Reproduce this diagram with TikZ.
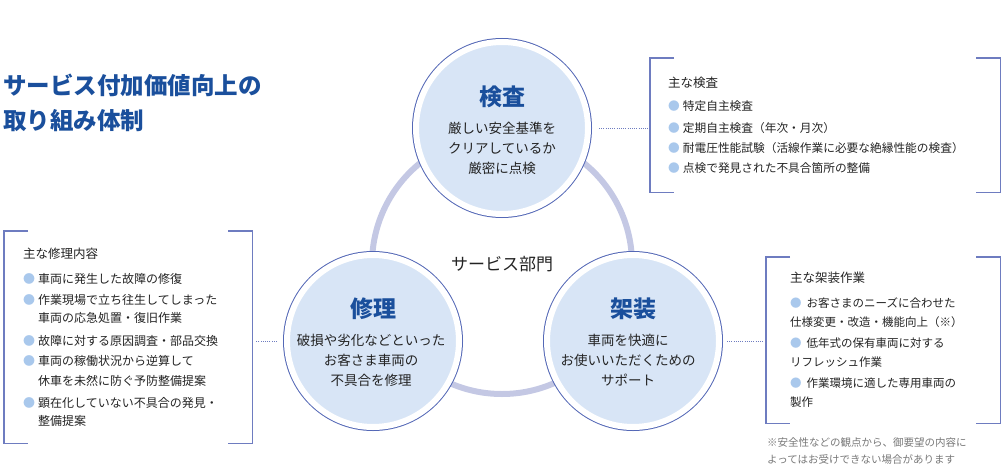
\documentclass[tikz,border=0pt]{standalone}
\usepackage{fontspec}
\setmainfont{Noto Sans CJK JP}
\usepackage{tikz}

\definecolor{titleblue}{RGB}{26,79,156}
\definecolor{circline}{RGB}{84,104,182}
\definecolor{circfill}{RGB}{216,229,246}
\definecolor{ringc}{RGB}{196,200,228}
\definecolor{brk}{RGB}{110,124,192}
\definecolor{bulc}{RGB}{169,200,236}
\definecolor{txt}{RGB}{35,35,35}
\definecolor{notec}{RGB}{120,120,120}

\newcommand{\bul}{\textcolor{bulc}{●}\hspace{3pt}}
\newcommand{\bracketframe}[1]{%
  \draw[bracket] ([xshift=24pt]#1.north west) -- (#1.north west) -- (#1.south west) -- ([xshift=24pt]#1.south west);
  \draw[bracket] ([xshift=-24pt]#1.north east) -- (#1.north east) -- (#1.south east) -- ([xshift=-24pt]#1.south east);}

\begin{document}
\begin{tikzpicture}[x=1pt, y=-1pt,
    circ/.style={circle, minimum size=172, inner sep=0, outer sep=4pt, fill=circfill, draw=white, line width=6pt, preaction={draw=circline, line width=8pt}},
    ctitle/.style={text=titleblue, font=\fontsize{23}{23}\selectfont\bfseries},
    cbody/.style={text=txt, align=center, font=\fontsize{13.5}{20}\selectfont},
    ring/.style={circle, minimum size=260, inner sep=0, draw=ringc, line width=6pt, text=txt, font=\fontsize{17}{17}\selectfont},
    listbox/.style={anchor=north west, inner ysep=0, align=left, text=txt, font=\fontsize{11.7}{19}\selectfont},
    bracket/.style={draw=brk, line width=1.2pt},
    dotline/.style={draw=brk, line width=0.8pt, dash pattern=on 1pt off 1.2pt}]
    \useasboundingbox (0,0) rectangle (1001,471);

    % department ring
    \node[ring] (bumon) at (502,264) {サービス部門};

    % three sections
    \node[circ] (kensa) at (502,128) {};
    \node[circ] (shuri) at (373,341) {};
    \node[circ] (kasou) at (633,341) {};

    \node[ctitle] (kensat) at (502,97) {検査};
    \node[ctitle] (shurit) at (373,309) {修理};
    \node[ctitle] (kasout) at (633,309) {架装};

    \node[cbody] (kensab) at (502,148) {厳しい安全基準を\\クリアしているか\\厳密に点検};
    \node[cbody] (shurib) at (371,360) {破損や劣化などといった\\お客さま車両の\\不具合を修理};
    \node[cbody] (kasoub) at (628,360) {車両を快適に\\お使いいただくための\\サポート};

    % lists
    \node[listbox, inner xsep=18pt, text width=314, minimum height=134] (kensabox) at (650,58) {%
      {\fontsize{12.5}{19}\selectfont 主な検査}\\[4pt]
      \bul 特定自主検査\\[3pt]
      \bul 定期自主検査（年次・月次）\\[1pt]
      \bul 耐電圧性能試験（活線作業に必要な絶縁性能の検査）\\[1pt]
      \bul 点検で発見された不具合箇所の整備};
    \node[listbox, inner xsep=19pt, text width=210, minimum height=212, font=\fontsize{12}{19}\selectfont] (shuribox) at (4,231) {%
      {\fontsize{12.5}{19}\selectfont 主な修理内容}\\[6pt]
      \bul 車両に発生した故障の修復\\[2pt]
      \bul 作業現場で立ち往生してしまった\\[-1pt]
      \hphantom{\bul}車両の応急処置・復旧作業\\[4pt]
      \bul 故障に対する原因調査・部品交換\\[1pt]
      \bul 車両の稼働状況から逆算して\\[1pt]
      \hphantom{\bul}休車を未然に防ぐ予防整備提案\\[3pt]
      \bul 顕在化していない不具合の発見・\\[-1pt]
      \hphantom{\bul}整備提案};
    \node[listbox, inner xsep=24pt, text width=186, minimum height=166, font=\fontsize{11.5}{19}\selectfont] (kasoubox) at (766,257) {%
      {\fontsize{12.5}{19}\selectfont 主な架装作業}\\[6pt]
      \bul\hspace{2pt}お客さまのニーズに合わせた\\
      仕様変更・改造・機能向上（※）\\[2pt]
      \bul\hspace{2pt}低年式の保有車両に対する\\
      リフレッシュ作業\\[2pt]
      \bul\hspace{2pt}作業環境に適した専用車両の\\
      製作};

    \bracketframe{kensabox}
    \bracketframe{shuribox}
    \bracketframe{kasoubox}

    \draw[dotline, shorten <=7pt, shorten >=2pt] (kensa.east) -- (kensabox.west |- kensa.east);
    \draw[dotline, shorten <=6pt, shorten >=3pt] (shuri.west) -- (shuribox.east |- shuri.west);
    \draw[dotline, shorten <=4pt, shorten >=3pt] (kasou.east) -- (kasoubox.west |- kasou.east);

    % heading and note
    \node[anchor=west, inner sep=0, align=left, text=titleblue, font=\fontsize{23.5}{35}\selectfont\bfseries] (heading) at (3,102.5) {サービス付加価値向上の\\取り組み体制};
    \node[anchor=west, inner sep=0, align=left, text=notec, font=\fontsize{10.5}{17}\selectfont] (note) at (767,451.5) {※安全性などの観点から、御要望の内容に\\よってはお受けできない場合があります};
\end{tikzpicture}
\end{document}
